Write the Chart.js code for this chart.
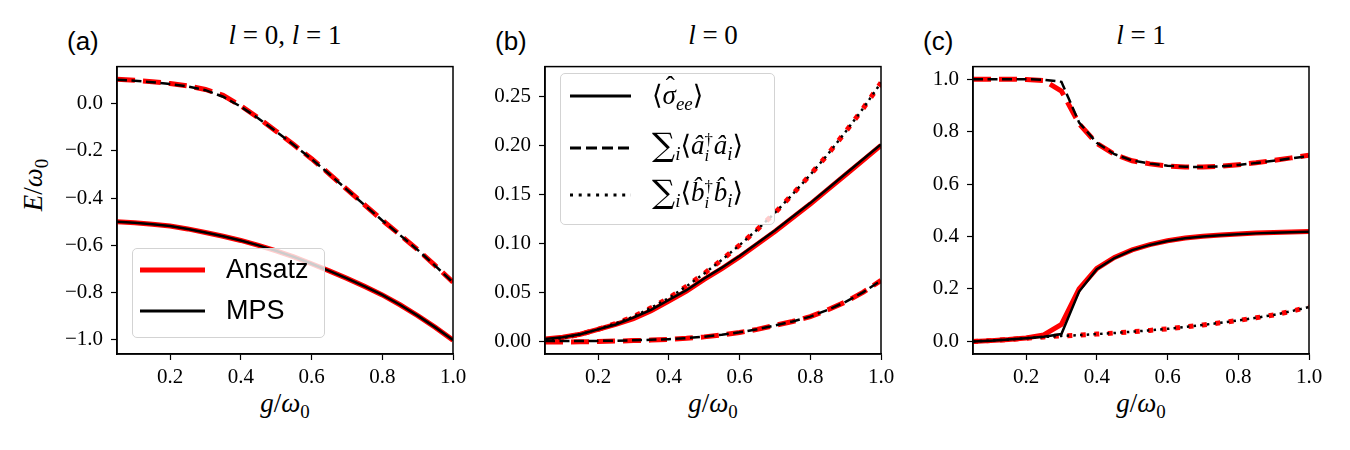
<!DOCTYPE html>
<html>
<head>
<meta charset="utf-8">
<script src="https://cdn.jsdelivr.net/npm/chart.js@4"></script>
<style>
body{margin:0;background:#fff;width:1350px;height:450px;position:relative;overflow:hidden;font-family:"Liberation Serif","DejaVu Serif",serif;color:#000}
.pnl{position:absolute}
.tag{position:absolute;font-family:"Liberation Sans",Arial,sans-serif;font-size:26px;line-height:26px}
.ttl{position:absolute;font-size:27px;line-height:30px;text-align:center;width:336px;top:20px}
.xl{position:absolute;font-size:27px;line-height:30px;text-align:center;width:336px;top:388px}
.yl{position:absolute;font-size:27px;line-height:30px;left:-7px;top:170px;width:80px;text-align:center;transform:rotate(-90deg)}
.leg{position:absolute;background:rgba(255,255,255,0.8);border:1px solid #d3d3d3;border-radius:5px;box-sizing:border-box}
.lt{position:absolute;font-size:27px;line-height:30px;white-space:nowrap;font-family:"Liberation Serif","DejaVu Serif","DejaVu Sans",serif}
.sum{font-size:1.2em;font-family:"DejaVu Serif","Liberation Serif",serif;vertical-align:-0.05em}
.st{position:absolute;font-family:"Liberation Sans",Arial,sans-serif;font-size:27px;line-height:30px}
sub{font-size:0.7em;vertical-align:-0.3em;line-height:0}
.ss{display:inline-block;vertical-align:-0.4em;font-size:0.62em;line-height:0.95em;text-align:left;margin-right:1px}
.hat{display:inline-block;position:relative}
.hat .h{position:absolute;left:0.12em;top:-0.32em;font-style:normal}
svg.smp{position:absolute;overflow:visible}
</style>
</head>
<body>
<div class="tag" style="left:67px;top:28px">(a)</div>
<div class="tag" style="left:495px;top:28px">(b)</div>
<div class="tag" style="left:923px;top:28px">(c)</div>

<div class="ttl" style="left:117px"><i>l</i> = 0, <i>l</i> = 1</div>
<div class="ttl" style="left:545px"><i>l</i> = 0</div>
<div class="ttl" style="left:973px"><i>l</i> = 1</div>

<div class="xl" style="left:117px"><i>g</i>/<i>ω</i><sub>0</sub></div>
<div class="xl" style="left:545px"><i>g</i>/<i>ω</i><sub>0</sub></div>
<div class="xl" style="left:973px"><i>g</i>/<i>ω</i><sub>0</sub></div>
<div class="yl"><i>E</i>/<i>ω</i><sub>0</sub></div>

<div class="pnl" style="left:37px;top:46px;width:436px;height:353px"><canvas id="pa" width="436" height="353"></canvas></div>
<div class="pnl" style="left:465px;top:46px;width:436px;height:353px"><canvas id="pb" width="436" height="353"></canvas></div>
<div class="pnl" style="left:893px;top:46px;width:436px;height:353px"><canvas id="pc" width="436" height="353"></canvas></div>

<!-- legend (a) -->
<div class="leg" style="left:132px;top:248px;width:193px;height:90px"></div>
<svg class="smp" style="left:0;top:0" width="1" height="1">
  <line x1="140" y1="270" x2="205" y2="270" stroke="#f00" stroke-width="5"/>
  <line x1="140" y1="311" x2="205" y2="311" stroke="#000" stroke-width="3"/>
</svg>
<div class="st" style="left:226px;top:254px">Ansatz</div>
<div class="st" style="left:226px;top:295px">MPS</div>

<!-- legend (b) -->
<div class="leg" style="left:560px;top:73px;width:215px;height:152px"></div>
<svg class="smp" style="left:0;top:0" width="1" height="1">
  <line x1="570" y1="96" x2="631" y2="96" stroke="#000" stroke-width="3"/>
  <line x1="570" y1="148" x2="631" y2="148" stroke="#000" stroke-width="3" stroke-dasharray="11 5"/>
  <line x1="570" y1="195" x2="631" y2="195" stroke="#000" stroke-width="3" stroke-dasharray="3 5.7"/>
</svg>
<div class="lt" style="left:652px;top:80px">⟨<span class="hat"><i>σ</i><span class="h">ˆ</span></span><sub><i>ee</i></sub>⟩</div>
<div class="lt" style="left:652px;top:130px"><span class="sum">∑</span><sub><i>i</i></sub>⟨<i>â</i><span class="ss">†<br><i>i</i></span><i>â</i><sub><i>i</i></sub>⟩</div>
<div class="lt" style="left:652px;top:177px"><span class="sum">∑</span><sub><i>i</i></sub>⟨<i>b̂</i><span class="ss">†<br><i>i</i></span><i>b̂</i><sub><i>i</i></sub>⟩</div>

<script>
// coupling g/omega0
var gVals = [0.05, 0.10, 0.15, 0.20, 0.25, 0.30, 0.35, 0.40, 0.45, 0.50,
             0.55, 0.60, 0.65, 0.70, 0.75, 0.80, 0.85, 0.90, 0.95, 1.00];

// (a) energies
var aUpperMps    = [0.102, 0.098, 0.092, 0.084, 0.074, 0.058, 0.030, -0.012, -0.062, -0.118,
                    -0.175, -0.234, -0.298, -0.364, -0.430, -0.495, -0.557, -0.620, -0.688, -0.758];
var aUpperAnsatz = [0.104, 0.100, 0.094, 0.086, 0.076, 0.061, 0.036, -0.008, -0.060, -0.116,
                    -0.174, -0.233, -0.297, -0.363, -0.429, -0.494, -0.556, -0.619, -0.687, -0.757];
var aLowerMps    = [-0.501, -0.505, -0.511, -0.519, -0.531, -0.546, -0.562, -0.580, -0.601, -0.624,
                    -0.650, -0.679, -0.709, -0.741, -0.775, -0.811, -0.853, -0.899, -0.949, -1.003];
var aLowerAnsatz = aLowerMps;

// (b) l = 0 occupations
var bSigmaMps   = [0.002, 0.004, 0.007, 0.012, 0.017, 0.024, 0.032, 0.042, 0.052, 0.064,
                   0.075, 0.087, 0.100, 0.113, 0.127, 0.141, 0.156, 0.171, 0.186, 0.201];
var bSigmaAns   = [0.002, 0.004, 0.007, 0.012, 0.017, 0.023, 0.031, 0.041, 0.051, 0.063,
                   0.074, 0.086, 0.099, 0.112, 0.126, 0.140, 0.155, 0.170, 0.185, 0.200];
var bAdaMps     = [0.000, 0.000, 0.0001, 0.0002, 0.0004, 0.0008, 0.0013, 0.002, 0.003, 0.0045,
                   0.0065, 0.009, 0.012, 0.016, 0.020, 0.025, 0.032, 0.040, 0.050, 0.062];
var bAdaAns     = [-0.001, -0.001, -0.0008, -0.0005, 0.000, 0.0005, 0.001, 0.0018, 0.0028, 0.0043,
                   0.0063, 0.0088, 0.012, 0.016, 0.020, 0.025, 0.032, 0.040, 0.050, 0.062];
var bBdbMps     = [0.001, 0.003, 0.007, 0.012, 0.018, 0.025, 0.034, 0.044, 0.056, 0.069,
                   0.083, 0.098, 0.114, 0.131, 0.150, 0.170, 0.191, 0.214, 0.238, 0.264];
var bBdbAns     = bBdbMps;

// (c) l = 1 occupations
var cAdaMps   = [1.000, 1.000, 1.000, 1.000, 0.998, 0.990, 0.835, 0.757, 0.714, 0.690,
                 0.678, 0.670, 0.666, 0.665, 0.668, 0.673, 0.680, 0.689, 0.698, 0.707];
var cAdaAns   = [1.000, 1.000, 1.000, 0.999, 0.995, 0.955, 0.830, 0.755, 0.713, 0.689,
                 0.677, 0.669, 0.665, 0.665, 0.668, 0.674, 0.681, 0.690, 0.700, 0.710];
var cSigmaMps = [0.000, 0.003, 0.007, 0.012, 0.018, 0.028, 0.190, 0.275, 0.318, 0.348,
                 0.368, 0.383, 0.393, 0.400, 0.405, 0.409, 0.412, 0.414, 0.416, 0.418];
var cSigmaAns = [0.000, 0.003, 0.007, 0.013, 0.025, 0.065, 0.200, 0.278, 0.320, 0.349,
                 0.369, 0.384, 0.394, 0.401, 0.406, 0.410, 0.413, 0.415, 0.417, 0.419];
var cBdbMps   = [0.000, 0.003, 0.007, 0.012, 0.017, 0.021, 0.024, 0.028, 0.032, 0.037,
                 0.042, 0.048, 0.055, 0.063, 0.071, 0.080, 0.090, 0.101, 0.115, 0.131];
var cBdbAns   = cBdbMps;

var xTicks  = [0.2, 0.4, 0.6, 0.8, 1.0];
var aYTicks = [0.0, -0.2, -0.4, -0.6, -0.8, -1.0];
var bYTicks = [0.00, 0.05, 0.10, 0.15, 0.20, 0.25];
var cYTicks = [0.0, 0.2, 0.4, 0.6, 0.8, 1.0];

var tickFont = {family: '"Liberation Serif", "DejaVu Serif", serif', size: 21};

function pts(arr) {
    return gVals.map(function (g, i) { return {x: g, y: arr[i]}; });
}
function mps(arr, dash) {
    return {data: pts(arr), borderColor: '#000', borderWidth: 2.5, borderDash: dash || [],
            pointRadius: 0, tension: 0, fill: false};
}
function ans(arr, dash) {
    return {data: pts(arr), borderColor: '#ff0000', borderWidth: 5, borderDash: dash || [],
            pointRadius: 0, tension: 0, fill: false};
}
var DASH_K = [10, 4.5], DOT_K = [2.5, 4.2];
var DASH_R = [18, 8], DOT_R = [5, 8.5];

var frame = {
    id: 'frame',
    afterDatasetsDraw: function (c) {
        var a = c.chartArea, ctx = c.ctx;
        ctx.save();
        ctx.strokeStyle = '#000';
        ctx.lineWidth = 1.5;
        ctx.strokeRect(a.left, a.top, a.right - a.left, a.bottom - a.top);
        ctx.restore();
    }
};

function fmt(dec) {
    return function (v) {
        var s = Math.abs(v).toFixed(dec);
        return (v < -1e-9 ? '\u2212' : '') + s;
    };
}

function makeChart(id, datasets, yMin, yMax, yTicks, yDec) {
    var ctx = document.getElementById(id);
    return new Chart(ctx, {
        type: 'line',
        data: {datasets: datasets},
        options: {
            responsive: false,
            animation: false,
            layout: {padding: {top: 12, right: 20, left: 0, bottom: 0}},
            plugins: {legend: {display: false}, tooltip: {enabled: false}},
            scales: {
                x: {
                    type: 'linear', min: 0.05, max: 1.0,
                    afterFit: function (s) { s.height = 45; },
                    afterBuildTicks: function (s) { s.ticks = xTicks.map(function (v) { return {value: v}; }); },
                    ticks: {callback: fmt(1), font: tickFont, color: '#000', padding: 5, maxRotation: 0, autoSkip: false},
                    grid: {drawOnChartArea: false, tickLength: 6, color: '#000', tickWidth: 1.2},
                    border: {color: '#000', width: 1.5}
                },
                y: {
                    type: 'linear', min: yMin, max: yMax,
                    afterFit: function (s) { s.width = 80; },
                    afterBuildTicks: function (s) { s.ticks = yTicks.map(function (v) { return {value: v}; }); },
                    ticks: {callback: fmt(yDec), font: tickFont, color: '#000', padding: 8, autoSkip: false},
                    grid: {drawOnChartArea: false, tickLength: 6, color: '#000', tickWidth: 1.2},
                    border: {color: '#000', width: 1.5}
                }
            }
        },
        plugins: [frame]
    });
}

// black (MPS) first so it is drawn on top of red (Ansatz)
makeChart('pa', [
    mps(aUpperMps, DASH_K), mps(aLowerMps),
    ans(aUpperAnsatz, DASH_R), ans(aLowerAnsatz)
], -1.062, 0.158, aYTicks, 1);

makeChart('pb', [
    mps(bSigmaMps), mps(bAdaMps, DASH_K), mps(bBdbMps, DOT_K),
    ans(bSigmaAns), ans(bAdaAns, DASH_R), ans(bBdbAns, DOT_R)
], -0.0132, 0.2805, bYTicks, 2);

makeChart('pc', [
    mps(cSigmaMps), mps(cAdaMps, DASH_K), mps(cBdbMps, DOT_K),
    ans(cSigmaAns), ans(cAdaAns, DASH_R), ans(cBdbAns, DOT_R)
], -0.048, 1.048, cYTicks, 1);
</script>
</body>
</html>
